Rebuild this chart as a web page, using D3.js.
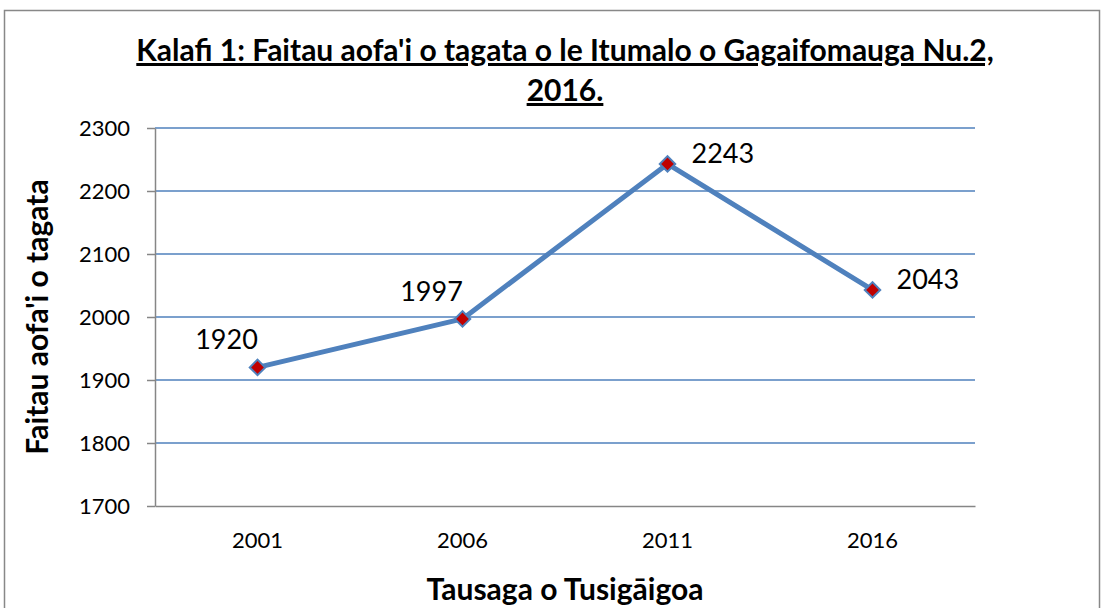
<html>
<head>
<style>
  body { margin: 0; background: #fff; }
  text { font-family: Lato, "Open Sans", sans-serif; }
</style>
</head>
<body>
<script src="https://cdn.jsdelivr.net/npm/d3@7"></script>
<div id="chart"></div>
<script>
    var years = ["2001", "2006", "2011", "2016"];
    var population = [1920, 1997, 2243, 2043];
    var yTicks = [1700, 1800, 1900, 2000, 2100, 2200, 2300];
    // label placement per point: left-above for first two, right for the rest
    var labelSide = ["above", "above", "right", "right"];

    var width = 1102, height = 608;
    var margin = { top: 128, right: 127, bottom: 102, left: 155 };
    var w = width - margin.left - margin.right,
        h = height - margin.top - margin.bottom;

    var svg = d3.select("#chart").append("svg")
        .attr("width", width).attr("height", height);

    // chart border
    svg.append("rect")
        .attr("x", 4.5).attr("y", 10.5)
        .attr("width", 1095).attr("height", 610)
        .attr("fill", "none").attr("stroke", "#888").attr("stroke-width", 1.5);

    var g = svg.append("g")
        .attr("transform", "translate(" + margin.left + "," + margin.top + ")");

    var x = d3.scaleBand().domain(years).range([0, w]);
    var y = d3.scaleLinear().domain([1700, 2300]).range([h, 0]);

    // gridlines
    g.selectAll("line.grid")
        .data(yTicks.filter(function (d) { return d > 1700; }))
        .enter().append("line")
        .attr("class", "grid")
        .attr("x1", 0).attr("x2", w)
        .attr("y1", function (d) { return y(d); })
        .attr("y2", function (d) { return y(d); })
        .attr("stroke", "#4F81BD").attr("stroke-width", 1.5);

    // y axis
    var yAxis = g.append("g")
        .call(d3.axisLeft(y).tickValues(yTicks).tickFormat(d3.format("d"))
            .tickSize(8).tickSizeOuter(0).tickPadding(17));
    yAxis.select(".domain").attr("stroke", "#868686").attr("stroke-width", 1.5);
    yAxis.selectAll(".tick line").attr("stroke", "#868686").attr("stroke-width", 1.5);
    yAxis.selectAll("text").style("font-size", "22px").attr("fill", "#000")
        .style("font-family", "Lato, sans-serif");

    // x axis
    var xAxis = g.append("g")
        .attr("transform", "translate(0," + h + ")")
        .call(d3.axisBottom(x).tickSize(0).tickPadding(26));
    xAxis.select(".domain").attr("stroke", "#868686").attr("stroke-width", 1.5);
    xAxis.selectAll("text").style("font-size", "22px").attr("fill", "#000")
        .style("font-family", "Lato, sans-serif");

    var data = years.map(function (d, i) { return { year: d, value: population[i], side: labelSide[i] }; });
    var cx = function (d) { return x(d.year) + x.bandwidth() / 2; };

    // line
    g.append("path")
        .datum(data)
        .attr("fill", "none")
        .attr("stroke", "#4F81BD")
        .attr("stroke-width", 5)
        .attr("stroke-linejoin", "round")
        .attr("d", d3.line().x(cx).y(function (d) { return y(d.value); }));

    // diamond markers
    g.selectAll("path.marker")
        .data(data)
        .enter().append("path")
        .attr("class", "marker")
        .attr("d", d3.symbol().type(d3.symbolSquare).size(120))
        .attr("transform", function (d) { return "translate(" + cx(d) + "," + y(d.value) + ") rotate(45)"; })
        .attr("fill", "#C00000")
        .attr("stroke", "#4F81BD")
        .attr("stroke-width", 2);

    // data labels
    g.selectAll("text.lbl")
        .data(data)
        .enter().append("text")
        .attr("class", "lbl")
        .attr("x", function (d) { return d.side === "right" ? cx(d) + 24 : cx(d) - 31; })
        .attr("y", function (d) { return d.side === "right" ? y(d.value) - 8 : y(d.value) - 25; })
        .attr("text-anchor", function (d) { return d.side === "right" ? "start" : "middle"; })
        .attr("dominant-baseline", "middle")
        .style("font-size", "27px")
        .text(function (d) { return d.value; });

    // titles
    var title = svg.append("text")
        .attr("text-anchor", "middle")
        .style("font-size", "30px").style("font-weight", "bold")
        .style("text-decoration", "underline");
    title.append("tspan").attr("x", 565).attr("y", 61).text("Kalafi 1: Faitau aofa'i o tagata o le Itumalo o Gagaifomauga Nu.2,");
    title.append("tspan").attr("x", 565).attr("y", 101).text("2016.");

    svg.append("text")
        .attr("x", 565).attr("y", 600)
        .attr("text-anchor", "middle")
        .style("font-size", "30px").style("font-weight", "bold")
        .text("Tausaga o Tusigāigoa");

    svg.append("text")
        .attr("transform", "translate(48," + (margin.top + h / 2) + ") rotate(-90)")
        .attr("text-anchor", "middle")
        .style("font-size", "30px").style("font-weight", "bold")
        .text("Faitau aofa'i o tagata");
</script>
</body>
</html>
